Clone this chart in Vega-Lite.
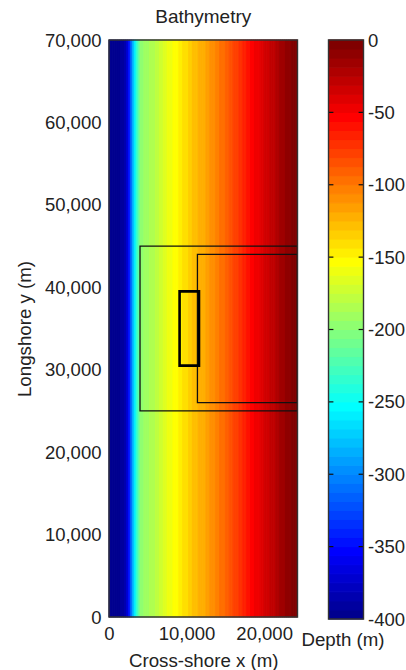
{"$schema":"https://vega.github.io/schema/vega-lite/v6.json","background":"white","padding":{"left":15,"top":8,"right":0,"bottom":0},"bounds":"flush","spacing":30.5,
"config":{"font":"Liberation Sans","view":{"stroke":null},"axis":{"labelFont":"Liberation Sans","titleFont":"Liberation Sans","labelFontSize":18.5,"titleFontSize":18.7,"labelColor":"#222","titleColor":"#222","titleFontWeight":"normal","grid":false}},
"datasets":{"bathy":[{"x0":0,"x1":250,"d":-400},{"x0":250,"x1":500,"d":-400},{"x0":500,"x1":750,"d":-400},{"x0":750,"x1":1000,"d":-399},{"x0":1000,"x1":1250,"d":-398},{"x0":1250,"x1":1500,"d":-396},{"x0":1500,"x1":1750,"d":-393},{"x0":1750,"x1":2000,"d":-390},{"x0":2000,"x1":2250,"d":-385},{"x0":2250,"x1":2500,"d":-375},{"x0":2500,"x1":2750,"d":-350},{"x0":2750,"x1":3000,"d":-315},{"x0":3000,"x1":3250,"d":-285},{"x0":3250,"x1":3500,"d":-258},{"x0":3500,"x1":3750,"d":-235},{"x0":3750,"x1":4000,"d":-215},{"x0":4000,"x1":4250,"d":-200},{"x0":4250,"x1":4500,"d":-196},{"x0":4500,"x1":4750,"d":-193},{"x0":4750,"x1":5000,"d":-191},{"x0":5000,"x1":5250,"d":-189},{"x0":5250,"x1":5500,"d":-187},{"x0":5500,"x1":5750,"d":-185},{"x0":5750,"x1":6000,"d":-182},{"x0":6000,"x1":6250,"d":-179},{"x0":6250,"x1":6500,"d":-176},{"x0":6500,"x1":6750,"d":-174},{"x0":6750,"x1":7000,"d":-171},{"x0":7000,"x1":7250,"d":-168},{"x0":7250,"x1":7500,"d":-165},{"x0":7500,"x1":7750,"d":-162.5},{"x0":7750,"x1":8000,"d":-160},{"x0":8000,"x1":8250,"d":-158},{"x0":8250,"x1":8500,"d":-155},{"x0":8500,"x1":8750,"d":-153},{"x0":8750,"x1":9000,"d":-151},{"x0":9000,"x1":9250,"d":-148},{"x0":9250,"x1":9500,"d":-145},{"x0":9500,"x1":9750,"d":-143},{"x0":9750,"x1":10000,"d":-140},{"x0":10000,"x1":10250,"d":-138},{"x0":10250,"x1":10500,"d":-136},{"x0":10500,"x1":10750,"d":-133},{"x0":10750,"x1":11000,"d":-131},{"x0":11000,"x1":11250,"d":-129},{"x0":11250,"x1":11500,"d":-127},{"x0":11500,"x1":11750,"d":-125},{"x0":11750,"x1":12000,"d":-123},{"x0":12000,"x1":12250,"d":-121},{"x0":12250,"x1":12500,"d":-119},{"x0":12500,"x1":12750,"d":-117},{"x0":12750,"x1":13000,"d":-114},{"x0":13000,"x1":13250,"d":-112},{"x0":13250,"x1":13500,"d":-110},{"x0":13500,"x1":13750,"d":-107},{"x0":13750,"x1":14000,"d":-105},{"x0":14000,"x1":14250,"d":-102},{"x0":14250,"x1":14500,"d":-100},{"x0":14500,"x1":14750,"d":-97},{"x0":14750,"x1":15000,"d":-95},{"x0":15000,"x1":15250,"d":-92},{"x0":15250,"x1":15500,"d":-89},{"x0":15500,"x1":15750,"d":-87},{"x0":15750,"x1":16000,"d":-84},{"x0":16000,"x1":16250,"d":-81},{"x0":16250,"x1":16500,"d":-79},{"x0":16500,"x1":16750,"d":-76},{"x0":16750,"x1":17000,"d":-73},{"x0":17000,"x1":17250,"d":-70},{"x0":17250,"x1":17500,"d":-67},{"x0":17500,"x1":17750,"d":-64},{"x0":17750,"x1":18000,"d":-61},{"x0":18000,"x1":18250,"d":-58},{"x0":18250,"x1":18500,"d":-55},{"x0":18500,"x1":18750,"d":-52},{"x0":18750,"x1":19000,"d":-50},{"x0":19000,"x1":19250,"d":-47},{"x0":19250,"x1":19500,"d":-45},{"x0":19500,"x1":19750,"d":-42},{"x0":19750,"x1":20000,"d":-40},{"x0":20000,"x1":20250,"d":-37.5},{"x0":20250,"x1":20500,"d":-35},{"x0":20500,"x1":20750,"d":-33},{"x0":20750,"x1":21000,"d":-30},{"x0":21000,"x1":21250,"d":-28},{"x0":21250,"x1":21500,"d":-25.5},{"x0":21500,"x1":21750,"d":-23},{"x0":21750,"x1":22000,"d":-21},{"x0":22000,"x1":22250,"d":-18.5},{"x0":22250,"x1":22500,"d":-16},{"x0":22500,"x1":22750,"d":-14},{"x0":22750,"x1":23000,"d":-11.5},{"x0":23000,"x1":23250,"d":-9},{"x0":23250,"x1":23500,"d":-7},{"x0":23500,"x1":23750,"d":-5},{"x0":23750,"x1":24000,"d":-3},{"x0":24000,"x1":24250,"d":-1},{"x0":24250,"x1":24300,"d":0}],
"bar":[{"lo":-400,"hi":-393.75,"d":-396.875},{"lo":-393.75,"hi":-387.5,"d":-390.625},{"lo":-387.5,"hi":-381.25,"d":-384.375},{"lo":-381.25,"hi":-375,"d":-378.125},{"lo":-375,"hi":-368.75,"d":-371.875},{"lo":-368.75,"hi":-362.5,"d":-365.625},{"lo":-362.5,"hi":-356.25,"d":-359.375},{"lo":-356.25,"hi":-350,"d":-353.125},{"lo":-350,"hi":-343.75,"d":-346.875},{"lo":-343.75,"hi":-337.5,"d":-340.625},{"lo":-337.5,"hi":-331.25,"d":-334.375},{"lo":-331.25,"hi":-325,"d":-328.125},{"lo":-325,"hi":-318.75,"d":-321.875},{"lo":-318.75,"hi":-312.5,"d":-315.625},{"lo":-312.5,"hi":-306.25,"d":-309.375},{"lo":-306.25,"hi":-300,"d":-303.125},{"lo":-300,"hi":-293.75,"d":-296.875},{"lo":-293.75,"hi":-287.5,"d":-290.625},{"lo":-287.5,"hi":-281.25,"d":-284.375},{"lo":-281.25,"hi":-275,"d":-278.125},{"lo":-275,"hi":-268.75,"d":-271.875},{"lo":-268.75,"hi":-262.5,"d":-265.625},{"lo":-262.5,"hi":-256.25,"d":-259.375},{"lo":-256.25,"hi":-250,"d":-253.125},{"lo":-250,"hi":-243.75,"d":-246.875},{"lo":-243.75,"hi":-237.5,"d":-240.625},{"lo":-237.5,"hi":-231.25,"d":-234.375},{"lo":-231.25,"hi":-225,"d":-228.125},{"lo":-225,"hi":-218.75,"d":-221.875},{"lo":-218.75,"hi":-212.5,"d":-215.625},{"lo":-212.5,"hi":-206.25,"d":-209.375},{"lo":-206.25,"hi":-200,"d":-203.125},{"lo":-200,"hi":-193.75,"d":-196.875},{"lo":-193.75,"hi":-187.5,"d":-190.625},{"lo":-187.5,"hi":-181.25,"d":-184.375},{"lo":-181.25,"hi":-175,"d":-178.125},{"lo":-175,"hi":-168.75,"d":-171.875},{"lo":-168.75,"hi":-162.5,"d":-165.625},{"lo":-162.5,"hi":-156.25,"d":-159.375},{"lo":-156.25,"hi":-150,"d":-153.125},{"lo":-150,"hi":-143.75,"d":-146.875},{"lo":-143.75,"hi":-137.5,"d":-140.625},{"lo":-137.5,"hi":-131.25,"d":-134.375},{"lo":-131.25,"hi":-125,"d":-128.125},{"lo":-125,"hi":-118.75,"d":-121.875},{"lo":-118.75,"hi":-112.5,"d":-115.625},{"lo":-112.5,"hi":-106.25,"d":-109.375},{"lo":-106.25,"hi":-100,"d":-103.125},{"lo":-100,"hi":-93.75,"d":-96.875},{"lo":-93.75,"hi":-87.5,"d":-90.625},{"lo":-87.5,"hi":-81.25,"d":-84.375},{"lo":-81.25,"hi":-75,"d":-78.125},{"lo":-75,"hi":-68.75,"d":-71.875},{"lo":-68.75,"hi":-62.5,"d":-65.625},{"lo":-62.5,"hi":-56.25,"d":-59.375},{"lo":-56.25,"hi":-50,"d":-53.125},{"lo":-50,"hi":-43.75,"d":-46.875},{"lo":-43.75,"hi":-37.5,"d":-40.625},{"lo":-37.5,"hi":-31.25,"d":-34.375},{"lo":-31.25,"hi":-25,"d":-28.125},{"lo":-25,"hi":-18.75,"d":-21.875},{"lo":-18.75,"hi":-12.5,"d":-15.625},{"lo":-12.5,"hi":-6.25,"d":-9.375},{"lo":-6.25,"hi":0,"d":-3.125}],
"boxes":[{"name":"outer","x0":4000,"x1":24300,"y0":25000,"y1":45000},{"name":"inner","x0":11400,"x1":24300,"y0":26000,"y1":44000}],
"small":[{"name":"small","x0":9100,"x1":11600,"y0":30500,"y1":39500}],
"cbticks":[{"v":-350,"a":0,"b":0.14},{"v":-350,"a":0.86,"b":1},{"v":-300,"a":0,"b":0.14},{"v":-300,"a":0.86,"b":1},{"v":-250,"a":0,"b":0.14},{"v":-250,"a":0.86,"b":1},{"v":-200,"a":0,"b":0.14},{"v":-200,"a":0.86,"b":1},{"v":-150,"a":0,"b":0.14},{"v":-150,"a":0.86,"b":1},{"v":-100,"a":0,"b":0.14},{"v":-100,"a":0.86,"b":1},{"v":-50,"a":0,"b":0.14},{"v":-50,"a":0.86,"b":1}]},
"hconcat":[
{"width":188.5,"height":577,"title":{"text":"Bathymetry","font":"Liberation Sans","fontSize":19,"fontWeight":"normal","color":"#222","offset":4},
"layer":[
{"data":{"name":"bathy"},"mark":{"type":"rect","strokeWidth":1},"encoding":{
"x":{"field":"x0","type":"quantitative","scale":{"domain":[0,24300],"nice":false,"zero":false},"axis":{"values":[0,10000,20000],"format":",d","title":"Cross-shore x (m)","domain":false,"ticks":false,"labelPadding":7,"titlePadding":9,"labelFlush":false,"labelOverlap":false}},
"x2":{"field":"x1"},
"y":{"datum":0,"type":"quantitative","scale":{"domain":[0,70000],"nice":false},"axis":{"values":[0,10000,20000,30000,40000,50000,60000,70000],"format":",d","title":"Longshore y (m)","domain":false,"ticks":false,"labelPadding":8,"titlePadding":10,"labelFlush":false,"labelOverlap":false}},
"y2":{"datum":70000},
"color":{"field":"d","type":"quantitative","legend":null,"scale":{"type":"quantize","domain":[-400,0],"range":["#00008f","#00009f","#0000af","#0000bf","#0000cf","#0000df","#0000ef","#0000ff","#0010ff","#0020ff","#0030ff","#0040ff","#0050ff","#0060ff","#0070ff","#0080ff","#008fff","#009fff","#00afff","#00bfff","#00cfff","#00dfff","#00efff","#00ffff","#10ffef","#20ffdf","#30ffcf","#40ffbf","#50ffaf","#60ff9f","#70ff8f","#80ff80","#8fff70","#9fff60","#afff50","#bfff40","#cfff30","#dfff20","#efff10","#ffff00","#ffef00","#ffdf00","#ffcf00","#ffbf00","#ffaf00","#ff9f00","#ff8f00","#ff8000","#ff7000","#ff6000","#ff5000","#ff4000","#ff3000","#ff2000","#ff1000","#ff0000","#ef0000","#df0000","#cf0000","#bf0000","#af0000","#9f0000","#8f0000","#800000"]}},
"stroke":{"field":"d","type":"quantitative","legend":null,"scale":{"type":"quantize","domain":[-400,0],"range":["#00008f","#00009f","#0000af","#0000bf","#0000cf","#0000df","#0000ef","#0000ff","#0010ff","#0020ff","#0030ff","#0040ff","#0050ff","#0060ff","#0070ff","#0080ff","#008fff","#009fff","#00afff","#00bfff","#00cfff","#00dfff","#00efff","#00ffff","#10ffef","#20ffdf","#30ffcf","#40ffbf","#50ffaf","#60ff9f","#70ff8f","#80ff80","#8fff70","#9fff60","#afff50","#bfff40","#cfff30","#dfff20","#efff10","#ffff00","#ffef00","#ffdf00","#ffcf00","#ffbf00","#ffaf00","#ff9f00","#ff8f00","#ff8000","#ff7000","#ff6000","#ff5000","#ff4000","#ff3000","#ff2000","#ff1000","#ff0000","#ef0000","#df0000","#cf0000","#bf0000","#af0000","#9f0000","#8f0000","#800000"]}}
}},
{"data":{"name":"boxes"},"mark":{"type":"rect","fill":null,"stroke":"#111","strokeWidth":1.3,"clip":true},"encoding":{"x":{"field":"x0","type":"quantitative"},"x2":{"field":"x1"},"y":{"field":"y0","type":"quantitative"},"y2":{"field":"y1"}}},
{"data":{"name":"small"},"mark":{"type":"rect","fill":null,"stroke":"#000","strokeWidth":2.6},"encoding":{"x":{"field":"x0","type":"quantitative"},"x2":{"field":"x1"},"y":{"field":"y0","type":"quantitative"},"y2":{"field":"y1"}}},
{"data":{"name":"small"},"mark":{"type":"rect","fill":null,"stroke":"#333","strokeWidth":1.4},"encoding":{"x":{"datum":0,"type":"quantitative"},"x2":{"datum":24300},"y":{"datum":0,"type":"quantitative"},"y2":{"datum":70000}}}
]},
{"width":35,"height":579,
"layer":[
{"data":{"name":"bar"},"mark":{"type":"rect","strokeWidth":1},
"encoding":{
"x":{"datum":0,"type":"quantitative","scale":{"domain":[0,1]},"axis":{"title":"Depth (m)","labels":false,"ticks":false,"domain":false,"titlePadding":11,"titleX":14}},
"x2":{"datum":1},
"y":{"field":"lo","type":"quantitative","scale":{"domain":[-400,0],"nice":false,"zero":false},"axis":{"orient":"right","values":[-400,-350,-300,-250,-200,-150,-100,-50,0],"title":null,"ticks":false,"domain":false,"labelPadding":4,"labelExpr":"'' + datum.value","labelFlush":false,"labelOverlap":false}},
"y2":{"field":"hi"},
"color":{"field":"d","type":"quantitative","legend":null,"scale":{"type":"quantize","domain":[-400,0],"range":["#00008f","#00009f","#0000af","#0000bf","#0000cf","#0000df","#0000ef","#0000ff","#0010ff","#0020ff","#0030ff","#0040ff","#0050ff","#0060ff","#0070ff","#0080ff","#008fff","#009fff","#00afff","#00bfff","#00cfff","#00dfff","#00efff","#00ffff","#10ffef","#20ffdf","#30ffcf","#40ffbf","#50ffaf","#60ff9f","#70ff8f","#80ff80","#8fff70","#9fff60","#afff50","#bfff40","#cfff30","#dfff20","#efff10","#ffff00","#ffef00","#ffdf00","#ffcf00","#ffbf00","#ffaf00","#ff9f00","#ff8f00","#ff8000","#ff7000","#ff6000","#ff5000","#ff4000","#ff3000","#ff2000","#ff1000","#ff0000","#ef0000","#df0000","#cf0000","#bf0000","#af0000","#9f0000","#8f0000","#800000"]}},
"stroke":{"field":"d","type":"quantitative","legend":null,"scale":{"type":"quantize","domain":[-400,0],"range":["#00008f","#00009f","#0000af","#0000bf","#0000cf","#0000df","#0000ef","#0000ff","#0010ff","#0020ff","#0030ff","#0040ff","#0050ff","#0060ff","#0070ff","#0080ff","#008fff","#009fff","#00afff","#00bfff","#00cfff","#00dfff","#00efff","#00ffff","#10ffef","#20ffdf","#30ffcf","#40ffbf","#50ffaf","#60ff9f","#70ff8f","#80ff80","#8fff70","#9fff60","#afff50","#bfff40","#cfff30","#dfff20","#efff10","#ffff00","#ffef00","#ffdf00","#ffcf00","#ffbf00","#ffaf00","#ff9f00","#ff8f00","#ff8000","#ff7000","#ff6000","#ff5000","#ff4000","#ff3000","#ff2000","#ff1000","#ff0000","#ef0000","#df0000","#cf0000","#bf0000","#af0000","#9f0000","#8f0000","#800000"]}}
}},
{"data":{"name":"cbticks"},"mark":{"type":"rule","stroke":"#111","strokeWidth":1.2},"encoding":{"x":{"field":"a","type":"quantitative"},"x2":{"field":"b"},"y":{"field":"v","type":"quantitative"}}},
{"data":{"name":"small"},"mark":{"type":"rect","fill":null,"stroke":"#333","strokeWidth":1.4},"encoding":{"x":{"datum":0,"type":"quantitative"},"x2":{"datum":1},"y":{"datum":-400,"type":"quantitative"},"y2":{"datum":0}}}
]}
],"resolve":{"scale":{"color":"independent","stroke":"independent","x":"independent","y":"independent"}}}
